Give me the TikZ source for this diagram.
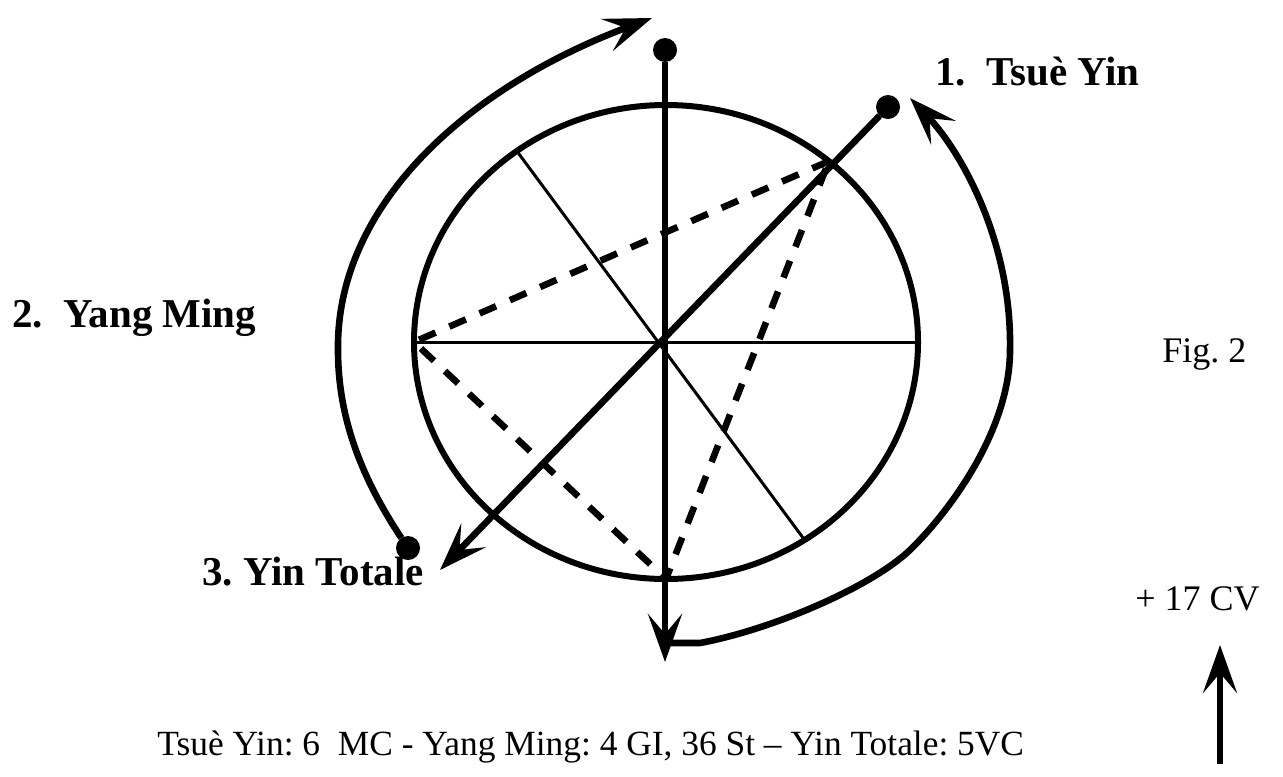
\documentclass[tikz,border=0pt]{standalone}
\usepackage{fontspec}
\setmainfont{Liberation Serif}
\usetikzlibrary{arrows.meta,positioning,calc,shapes.geometric}
\frenchspacing
\tikzset{
    every picture/.style={line join=round},
    pointdot/.style={circle,fill=black,minimum size=12pt,inner sep=0pt,outer sep=0pt},
    ringshape/.style={draw,ellipse,line width=3pt,minimum width=252pt,
      minimum height=237pt,inner sep=0pt,outer sep=0pt},
    meridian/.style={line width=3.3pt},
    thinaxis/.style={line width=1.5pt},
    dashlink/.style={line width=3.3pt,dash pattern=on 9pt off 7.5pt},
    cyclearrow/.style={line width=3.3pt,
      -{Stealth[length=24pt,width=17pt,inset=10pt]}},
    stagelabel/.style={font=\fontsize{20.5}{24}\selectfont\bfseries,
      anchor=base west,inner sep=0pt},
    plainlabel/.style={font=\fontsize{18}{22}\selectfont,
      anchor=base west,inner sep=0pt}
}

\begin{document}
\begin{tikzpicture}[x=0.5pt,y=-0.5pt]
  \useasboundingbox (0,0) rectangle (1283,776);
  % circle and its axes
  \node[ringshape] (ring) at (666,342) {};
  \draw[thinaxis] (ring.west) -- (ring.east);
  \draw[thinaxis] (ring.128) -- (ring.305);
  \draw[dashlink] (ring.48) -- (ring.west) -- (ring.south) -- cycle;
  % end points
  \node[pointdot] (top) at (665,50) {};
  \node[pointdot] (tsue) at (888,107) {};
  \node[pointdot] (totale) at (408,548) {};
  \coordinate (vtip) at (665,662);
  \coordinate (dtip) at (440,570);
  \coordinate (ltip) at (652,18);
  \coordinate (rstart) at (667,643);
  \coordinate (rtip) at (910,98);
  \draw[meridian,cyclearrow] (top) -- (vtip);
  \draw[meridian,cyclearrow] (tsue) -- (dtip);
  % turning arrows
  \draw[cyclearrow] (totale) .. controls (363,480) and (338,420) .. (338,350)
    .. controls (336,210) and (460,90) .. (ltip);
  \draw[cyclearrow] (rstart) -- (700,643)
    .. controls (770,630) and (870,588) .. (910,550)
    .. controls (950,511) and (1010,430) .. (1010,350)
    .. controls (1012,240) and (960,150) .. (rtip);
  % labels
  \node[stagelabel] (l1) at (935,85) {1.\ \ Tsuè Yin};
  \node[stagelabel] (l2) at (12,327) {2.\ \ Yang Ming};
  \node[stagelabel] (l3) at (202,585) {3. Yin Totale};
  \node[plainlabel] (fig) at (1162,362) {Fig. 2};
  \node[plainlabel] (cv) at (1135,610) {+ 17 CV};
  \node[plainlabel,font=\fontsize{17.7}{22}\selectfont] (legend) at (157,755)
    {Tsuè Yin: 6\ \ MC - Yang Ming: 4 GI, 36 St – Yin Totale: 5VC};
  \coordinate (cvfoot) at (1220,764);
  \coordinate (cvtip) at (1220,645);
  \draw[cyclearrow] (cvfoot) -- (cvtip);
\end{tikzpicture}
\end{document}
